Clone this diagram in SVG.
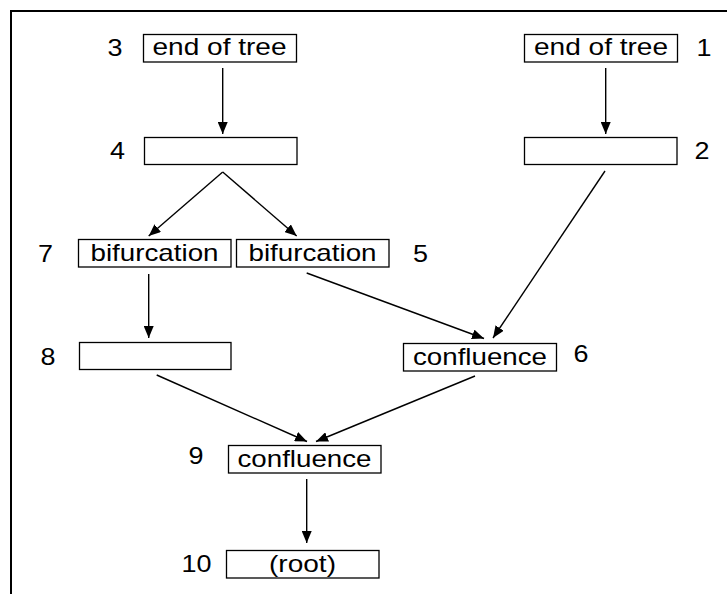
<svg xmlns="http://www.w3.org/2000/svg" width="727" height="594" viewBox="0 0 727 594">
  <style>
    .box { fill: #fff; stroke: #000; stroke-width: 1.3; }
    .lbl { font-family: "Liberation Sans", Arial, sans-serif; font-size: 24px; fill: #000; text-anchor: middle; }
    .num { font-family: "Liberation Sans", Arial, sans-serif; font-size: 24px; fill: #000; text-anchor: middle; }
    .edge { stroke: #000; stroke-width: 1.4; fill: none; marker-end: url(#head); }
    .frame { stroke: #000; stroke-width: 2; fill: none; }
  </style>
  <defs>
    <marker id="head" markerUnits="userSpaceOnUse" markerWidth="12" markerHeight="10" refX="12" refY="5" orient="auto">
      <path d="M0,0 L12,5 L0,10 z" fill="#000"/>
    </marker>
  </defs>
  <rect width="727" height="594" fill="#fff"/>

  <!-- open frame: top and left edges only -->
  <path class="frame" d="M727,11 H11 V594"/>

  <g id="connectors">
    <line class="edge" x1="222.7" y1="68" x2="222.7" y2="134"/>
    <line class="edge" x1="605.7" y1="68" x2="605.7" y2="134"/>
    <line class="edge" x1="222.7" y1="172" x2="148.7" y2="236"/>
    <line class="edge" x1="222.7" y1="172" x2="296.7" y2="236"/>
    <line class="edge" x1="148.7" y1="274" x2="148.7" y2="338"/>
    <line class="edge" x1="306.7" y1="273" x2="484" y2="338.5"/>
    <line class="edge" x1="605" y1="171" x2="493" y2="338"/>
    <line class="edge" x1="156.7" y1="375" x2="307" y2="441.5"/>
    <line class="edge" x1="475" y1="376" x2="316" y2="441.5"/>
    <line class="edge" x1="306.7" y1="479" x2="306.7" y2="543"/>
  </g>

  <g id="node1">
    <rect class="box" x="524.5" y="34.5" width="153" height="27.5"/>
    <text class="lbl" x="601" y="55" textLength="134" lengthAdjust="spacingAndGlyphs">end of tree</text>
    <text class="num" x="704" y="56" textLength="15" lengthAdjust="spacingAndGlyphs">1</text>
  </g>
  <g id="node2">
    <rect class="box" x="524.5" y="137.5" width="152.5" height="27"/>
    <text class="num" x="702" y="159" textLength="15" lengthAdjust="spacingAndGlyphs">2</text>
  </g>
  <g id="node3">
    <rect class="box" x="143.5" y="34.5" width="153" height="27.5"/>
    <text class="lbl" x="219.5" y="55" textLength="134" lengthAdjust="spacingAndGlyphs">end of tree</text>
    <text class="num" x="115" y="56" textLength="15" lengthAdjust="spacingAndGlyphs">3</text>
  </g>
  <g id="node4">
    <rect class="box" x="144.5" y="137.5" width="152.5" height="27"/>
    <text class="num" x="117.5" y="159" textLength="15" lengthAdjust="spacingAndGlyphs">4</text>
  </g>
  <g id="node5">
    <rect class="box" x="236.5" y="239.5" width="152.5" height="27.5"/>
    <text class="lbl" x="312.5" y="261" textLength="128" lengthAdjust="spacingAndGlyphs">bifurcation</text>
    <text class="num" x="420.5" y="262" textLength="15" lengthAdjust="spacingAndGlyphs">5</text>
  </g>
  <g id="node6">
    <rect class="box" x="403.5" y="343.5" width="153" height="27.5"/>
    <text class="lbl" x="480" y="365" textLength="134" lengthAdjust="spacingAndGlyphs">confluence</text>
    <text class="num" x="581" y="362" textLength="15" lengthAdjust="spacingAndGlyphs">6</text>
  </g>
  <g id="node7">
    <rect class="box" x="78.5" y="239.5" width="152.5" height="27.5"/>
    <text class="lbl" x="154.5" y="261" textLength="128" lengthAdjust="spacingAndGlyphs">bifurcation</text>
    <text class="num" x="45.5" y="262" textLength="15" lengthAdjust="spacingAndGlyphs">7</text>
  </g>
  <g id="node8">
    <rect class="box" x="79.5" y="342.5" width="151.5" height="27"/>
    <text class="num" x="48" y="365" textLength="15" lengthAdjust="spacingAndGlyphs">8</text>
  </g>
  <g id="node9">
    <rect class="box" x="228.5" y="445.5" width="152.5" height="27.5"/>
    <text class="lbl" x="304.5" y="467" textLength="134" lengthAdjust="spacingAndGlyphs">confluence</text>
    <text class="num" x="196" y="464" textLength="15" lengthAdjust="spacingAndGlyphs">9</text>
  </g>
  <g id="node10">
    <rect class="box" x="226.5" y="550.5" width="152.5" height="27.5"/>
    <text class="lbl" x="302.5" y="572" textLength="67" lengthAdjust="spacingAndGlyphs">(root)</text>
    <text class="num" x="196.5" y="572" textLength="30" lengthAdjust="spacingAndGlyphs">10</text>
  </g>
</svg>
